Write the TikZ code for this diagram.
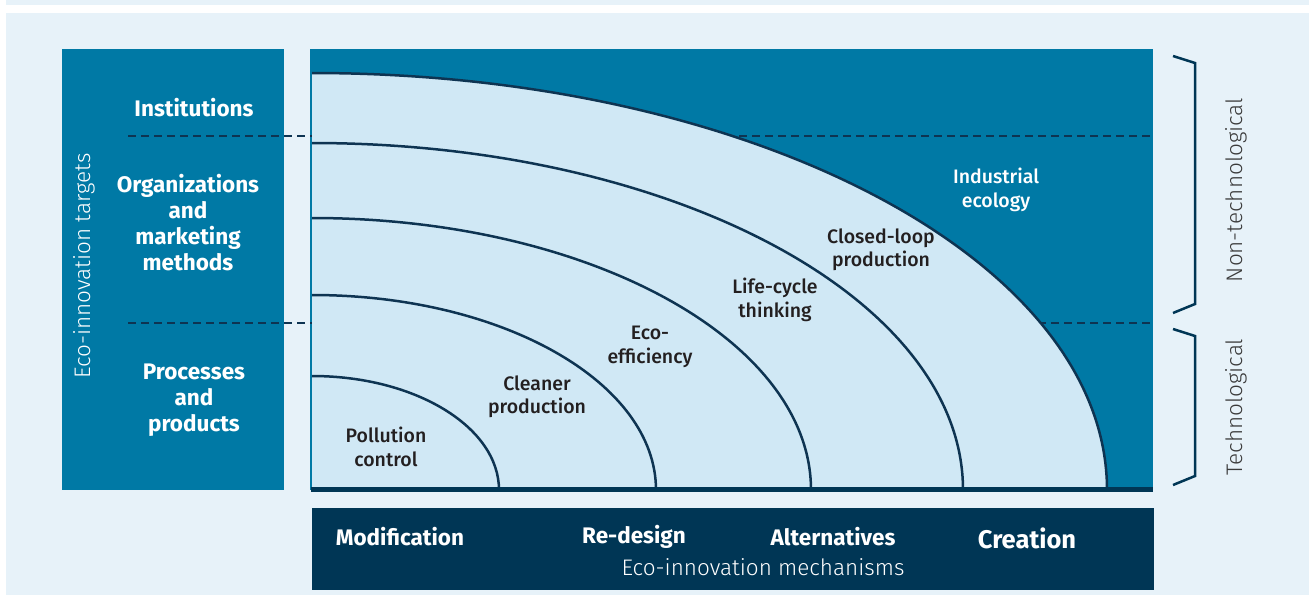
\documentclass[tikz,border=0pt]{standalone}
\usepackage{fontspec}
\setmainfont{Fira Sans}
\newfontfamily\medfont{Fira Sans Medium}
\newfontfamily\lightfont{Fira Sans Light}
\usepackage{tikz}
\usetikzlibrary{positioning}

\definecolor{pagebg}{HTML}{E7F2F9}
\definecolor{tealbox}{HTML}{0079A5}
\definecolor{lightfill}{HTML}{D0E8F5}
\definecolor{navybar}{HTML}{003655}
\definecolor{arcline}{HTML}{0E3452}
\definecolor{inkdark}{HTML}{231F20}
\definecolor{inkgrey}{HTML}{3A3A3A}

\tikzset{
	target/.style={font=\bfseries\fontsize{22.5}{26}\selectfont, text=white, align=center},
	stage/.style={font=\medfont\fontsize{19.5}{23.5}\selectfont, text=inkdark, align=center},
	mech/.style={font=\bfseries\fontsize{22.5}{26}\selectfont, text=white},
	axislabel/.style={font=\lightfont\fontsize{22.5}{26}\selectfont},
	levelline/.style={dashed, dash pattern=on 8pt off 5pt, line width=2pt, arcline},
	ring/.style={line width=2.5pt, arcline},
	bracket/.style={line width=2.5pt, navybar}
}

\begin{document}
\begin{tikzpicture}[x=1pt, y=-1pt]
	\useasboundingbox (0,0) rectangle (1309,595);
	
	% Background
	\fill[white] (0,0) rectangle (1309,595);
	\fill[pagebg] (6,0) rectangle (1309,5);
	\fill[pagebg] (6,13) rectangle (1309,595);
	
	% Targets panel
	\fill[tealbox] (62,49) rectangle (284,490);
	\node[axislabel, text=white, rotate=90] (targets) at (84,266) {Eco-innovation targets};
	\node[target] (inst) at (194,108) {Institutions};
	\node[target] (org) at (188,223) {Organizations\\and\\marketing\\methods};
	\node[target] (proc) at (194,400) {Processes\\and\\products};
	
	% Plot area
	\fill[tealbox] (310,49) rectangle (1153,490);
	
	% Dashed level lines (hidden under the rings)
	\draw[levelline] (128,136) -- (1153,136);
	\draw[levelline] (128,323) -- (1153,323);
	
	% Outer ring fill
	\fill[lightfill] (312,490) -- (1107,490) arc[start angle=0, end angle=90, x radius=795pt, y radius=417pt] -- cycle;
	
	% Rings
	\foreach \rx/\ry in {187/114, 344/195, 499/272, 651/347, 795/417}
		\draw[ring] (312+\rx,490) arc[start angle=0, end angle=90, x radius=\rx pt, y radius=\ry pt];
	\draw[line width=5pt, navybar] (311,489) -- (1153,489);
	
	% Ring labels
	\node[stage] (pollution) at (386,447) {Pollution\\control};
	\node[stage] (cleaner) at (537,397) {Cleaner\\production};
	\node[stage] (ecoeff) at (650,347) {Eco-\\efficiency};
	\node[stage] (lifecycle) at (775,300) {Life-cycle\\thinking};
	\node[stage] (closedloop) at (881,250) {Closed-loop\\production};
	\node[stage, text=white] (industrial) at (996,190) {Industrial\\ecology};
	
	% Mechanisms bar
	\fill[navybar] (312,508) rectangle (1154,590);
	\node[mech] (modif) at (400,537) {Modification};
	\node[mech] (redesign) at (634,537) {Re-design};
	\node[mech] (altern) at (833,537) {Alternatives};
	\node[mech, font=\bfseries\fontsize{25.5}{28}\selectfont] (creation) at (1027,538) {Creation};
	\node[axislabel, text=white] (mechs) at (763,567) {Eco-innovation mechanisms};
	
	% Brackets
	\draw[bracket] (1173,56) -- (1195,63) -- (1195,304) -- (1173,313);
	\draw[bracket] (1173,329) -- (1195,336) -- (1195,476) -- (1173,485);
	\node[axislabel, text=inkgrey, rotate=90] (nontech) at (1236,190) {Non-technological};
	\node[axislabel, text=inkgrey, rotate=90] (tech) at (1236,407) {Technological};
\end{tikzpicture}
\end{document}
